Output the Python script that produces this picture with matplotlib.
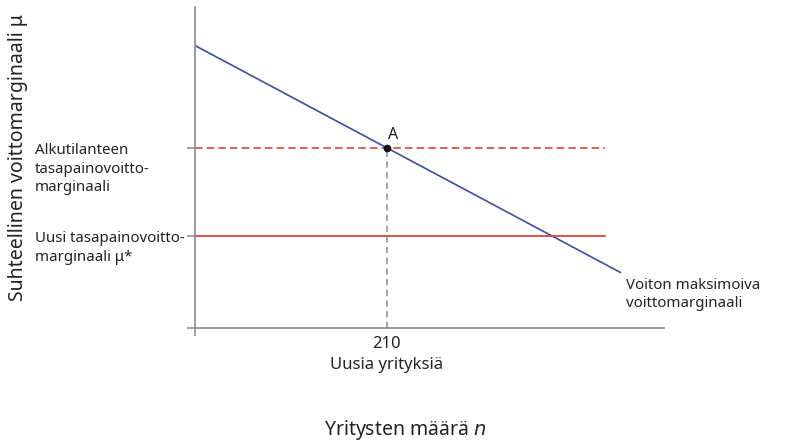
import matplotlib
matplotlib.use("Agg")
import matplotlib.pyplot as plt

plt.rcParams['font.family'] = ['Noto Sans', 'DejaVu Sans']

# data
n_eq = 210
blue_x = [0, 466]
blue_y = [88, 17.2]
mu_initial = 56.1
mu_new = 28.7
red_xmax = 448
xmax = 513
ymax = 100

blue = '#3b4ca8'
red = '#e4432f'
grey = '#8a8a8a'
txt = '#222222'

fig = plt.figure(figsize=(8.1, 4.44), dpi=100)
ax = fig.add_axes([195/810, 1-328/444, (664-195)/810, (328-7)/444])
ax.set_xlim(0, xmax)
ax.set_ylim(0, ymax)
for s in ['top', 'right']:
    ax.spines[s].set_visible(False)
for s in ['left', 'bottom']:
    ax.spines[s].set_color(grey)
    ax.spines[s].set_linewidth(1.2)

ax.plot(blue_x, blue_y, color=blue, lw=1.2, solid_capstyle='butt')
ax.plot([0, red_xmax], [mu_initial, mu_initial], color=red, lw=1.2, ls=(0, (4.5, 2.5)))
ax.plot([0, red_xmax], [mu_new, mu_new], color=red, lw=1.3)
ax.plot([n_eq, n_eq], [0, mu_initial], color=grey, lw=1.1, ls=(0, (4, 3)))
ax.plot([n_eq], [mu_initial], 'o', color='#111111', ms=4.5, zorder=5)
ax.text(n_eq + 1, mu_initial + 1.6, 'A', fontsize=11.5, color=txt, ha='left', va='bottom')

ax.set_xticks([0])
ax.set_xticklabels([''])
ax.set_yticks([0, mu_new, mu_initial])
ax.set_yticklabels(['', '', ''])
ax.tick_params(axis='both', color=grey, length=6, width=1.1)

fs = 10.8
ax.text(-0.341, mu_initial + 1.5, 'Alkutilanteen\ntasapainovoitto-\nmarginaali', transform=ax.get_yaxis_transform(),
        fontsize=fs, color=txt, ha='left', va='top', linespacing=1.32)
ax.text(-0.341, mu_new + 1.5, 'Uusi tasapainovoitto-\nmarginaali μ*', transform=ax.get_yaxis_transform(),
        fontsize=fs, color=txt, ha='left', va='top', linespacing=1.32)

ax.text(n_eq, -2.4, '210\nUusia yrityksiä', fontsize=12, color=txt, ha='center', va='top', linespacing=1.45)
ax.text(blue_x[1] + 5, blue_y[1] - 1.5, 'Voiton maksimoiva\nvoittomarginaali', fontsize=fs, color=txt,
        ha='left', va='top', linespacing=1.3)

fig.text(405/810, 1-430/444, 'Yritysten määrä $n$', fontsize=14, color=txt, ha='center', va='center')
fig.text(18/810, 1-158/444, 'Suhteellinen voittomarginaali μ', fontsize=14, color=txt, ha='center', va='center',
         rotation=90)

fig.savefig('out.png', dpi=100, facecolor='white')
